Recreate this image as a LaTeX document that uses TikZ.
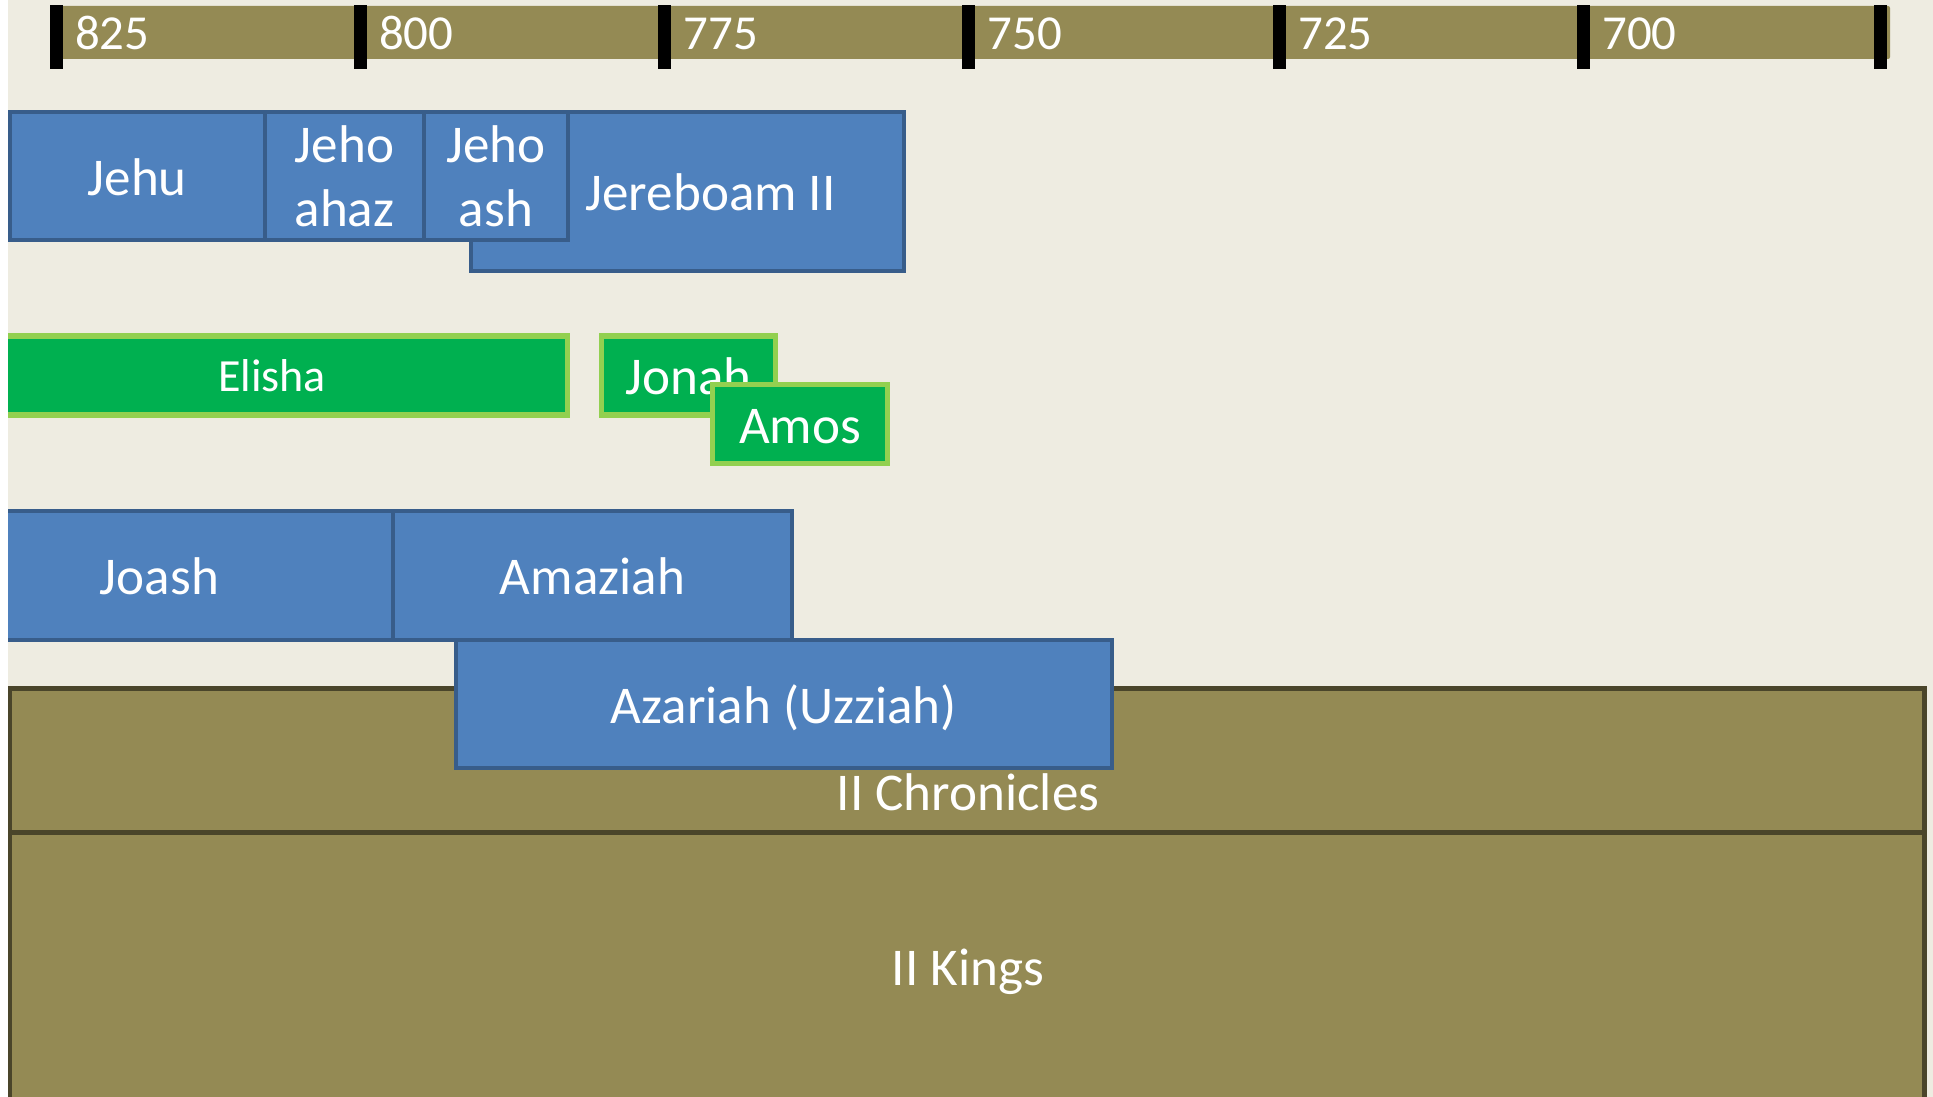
\documentclass[tikz,border=0pt]{standalone}
\usepackage{fontspec}
\newfontfamily\carl{Carlito}
\definecolor{bgtan}{HTML}{EEECE1}
\definecolor{olivefill}{HTML}{948A54}
\definecolor{oliveline}{HTML}{4A452A}
\definecolor{boxblue}{HTML}{4F81BD}
\definecolor{boxblueline}{HTML}{385D8A}
\definecolor{boxgreen}{HTML}{00B050}
\definecolor{boxgreenline}{HTML}{92D050}
\newcommand{\lblfont}{\carl\fontsize{15.1pt}{18.2pt}\selectfont}
\newcommand{\smallfont}{\carl\fontsize{13.1pt}{16pt}\selectfont}
\newcommand{\yearfont}{\carl\fontsize{13.9pt}{16.7pt}\selectfont}
\tikzset{
  boxat/.style n args={4}{at={(#1,#2)}, anchor=north west,
     minimum width={(#3-(#1))*0.01cm}, minimum height={(#4-(#2))*0.01cm}},
  basebox/.style={inner sep=0pt, outer sep=0pt, text=white, font=\lblfont, align=center},
  bluebox/.style={basebox, draw=boxblueline, fill=boxblue, line width=0.04cm},
  greenbox/.style={basebox, draw=boxgreenline, fill=boxgreen, line width=0.05cm},
  bookbox/.style={inner sep=0pt, outer sep=0pt, draw=oliveline, fill=olivefill, line width=0.05cm},
  oneline/.style={text height=11pt, text depth=0pt},
  yearlabel/.style={anchor=base west, inner sep=0pt, text=white, font=\yearfont},
  booklabel/.style={anchor=base, inner sep=0pt, text=white, font=\lblfont},
  tickmark/.style={fill=black},
  timebar/.style={fill=olivefill}
}
\begin{document}
\begin{tikzpicture}[x=0.01cm, y=-0.01cm]
\useasboundingbox (0,0) rectangle (1933,1097);
\fill[white] (0,0) rectangle (1933,1097);
\fill[bgtan] (8,0) rectangle (1933,1097);
\begin{scope}
\clip (8,0) rectangle (1933,1097);
% timeline
\fill[timebar, rounded corners=0.02cm] (56,6) rectangle (1890,59);
\foreach \tx in {56,360,664.5,968.5,1279,1583,1880}{
  \fill[tickmark] (\tx-6.5,5) rectangle (\tx+6.5,69);
}
\node[yearlabel] (y825) at (74.5,50) {825};
\node[yearlabel] (y800) at (378.5,50) {800};
\node[yearlabel] (y775) at (683,50) {775};
\node[yearlabel] (y750) at (987,50) {750};
\node[yearlabel] (y725) at (1297.5,50) {725};
\node[yearlabel] (y700) at (1601.5,50) {700};
% books
\node[bookbox, boxat={9.5}{832}{1924}{1112}] (kings) {};
\node[bookbox, boxat={9.5}{688}{1924}{832}] (chron) {};
\node[booklabel] (chronlbl) at (968,810) {II Chronicles};
\node[booklabel] (kingslbl) at (968,985) {II Kings};
% kings of Israel
\node[bluebox, oneline, boxat={471}{112}{904}{271}] (jereboam) {\hspace*{0.46cm}Jereboam II};
\node[bluebox, oneline, boxat={9.5}{112}{265}{240}] (jehu) {Jehu};
\node[bluebox, boxat={265}{112}{424}{240}] (jehoahaz) {Jeho\\ahaz};
\node[bluebox, boxat={424}{112}{568}{240}] (jehoash) {Jeho\\ash};
% prophets
\node[greenbox, boxat={-23}{336}{567}{415}, font=\smallfont, text height=9.3pt, text depth=0pt] (elisha) {Elisha};
\node[greenbox, oneline, boxat={601.5}{336}{775.5}{415}] (jonah) {Jonah};
\node[greenbox, oneline, boxat={712.5}{384.5}{887.5}{463.5}] (amos) {Amos};
% kings of Judah
\node[bluebox, oneline, boxat={-74}{511}{393}{640}] (joash) {Joash};
\node[bluebox, oneline, boxat={393}{511}{792}{640}] (amaziah) {Amaziah};
\node[bluebox, oneline, boxat={456}{640}{1112}{768}] (azariah) {Azariah (Uzziah)};
\end{scope}
\end{tikzpicture}
\end{document}
